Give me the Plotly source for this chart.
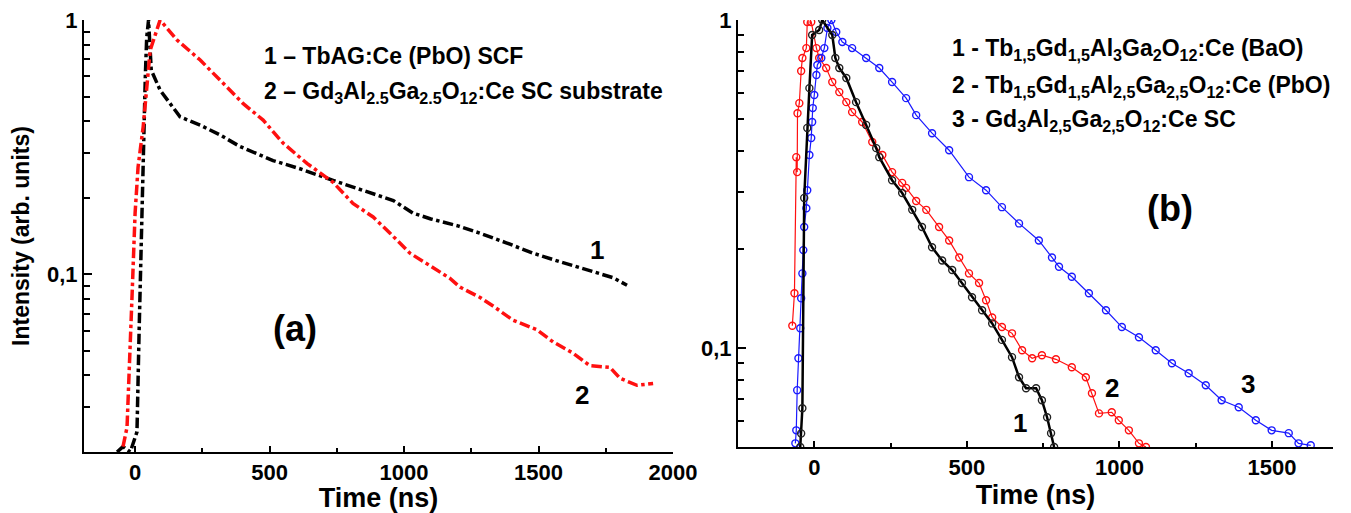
import numpy as np
import plotly.graph_objects as go

# ---- panel (a): TbAG:Ce SCF vs GAGG:Ce substrate ----
a1_t = [-67, -45, -18, 7, 15, 22, 30, 38, 43, 50, 60, 93, 167, 242, 316, 390, 513, 613,
        736, 885, 960, 1033, 1100, 1200, 1283, 1380, 1480, 1580, 1680, 1777, 1829]
a1_i = [0.020, 0.021, 0.020, 0.024, 0.06, 0.13, 0.3, 0.6, 0.85, 1.0, 0.635, 0.53, 0.416,
        0.386, 0.353, 0.318, 0.28, 0.26, 0.234, 0.208, 0.195, 0.174, 0.165, 0.155, 0.145,
        0.133, 0.121, 0.112, 0.104, 0.097, 0.0905]

a2_t = [-45, -30, -11, 0, 11, 30, 45, 56, 93, 156, 242, 316, 401, 476, 550, 639, 736, 810,
        885, 948, 1022, 1097, 1171, 1208, 1283, 1331, 1405, 1494, 1554, 1628, 1691, 1766,
        1803, 1866, 1926]
a2_i = [0.021, 0.025, 0.084, 0.174, 0.264, 0.38, 0.565, 0.76, 1.0, 0.834, 0.696, 0.58,
        0.47, 0.404, 0.328, 0.273, 0.23, 0.19, 0.168, 0.145, 0.121, 0.108, 0.0963, 0.089,
        0.081, 0.075, 0.066, 0.0605, 0.0542, 0.049, 0.0437, 0.043, 0.039, 0.0366, 0.0372]

# ---- panel (b): three garnet samples ----
b1_t = [-46, -43, -39, -33, -23, -16, -7, 16, 26, 59, 69, 82, 105, 137, 170, 203, 213, 255,
        288, 321, 353, 386, 419, 452, 484, 517, 550, 583, 615, 648, 671, 694, 727, 746,
        763, 776, 786]
b1_i = [0.050, 0.055, 0.0656, 0.287, 0.469, 0.620, 0.90, 0.932, 1.0, 0.90, 0.766, 0.714,
        0.666, 0.562, 0.479, 0.407, 0.382, 0.325, 0.297, 0.264, 0.234, 0.203, 0.185,
        0.173, 0.158, 0.143, 0.1305, 0.119, 0.106, 0.0939, 0.0816, 0.0755, 0.0755,
        0.0694, 0.0616, 0.0551, 0.050]

b2_t = [-72, -65, -59, -56, -55, -49, -43, -39, -26, -23, -10, 7, 16, 39, 59, 82, 105, 124,
        157, 190, 223, 255, 288, 301, 334, 367, 409, 442, 475, 507, 540, 563, 583, 615,
        648, 681, 714, 746, 792, 844, 890, 910, 933, 975, 998, 1031, 1064, 1087]
b2_i = [0.117, 0.147, 0.382, 0.344, 0.520, 0.558, 0.699, 0.766, 0.821, 0.986, 0.986,
        0.821, 0.766, 0.714, 0.647, 0.603, 0.562, 0.524, 0.489, 0.425, 0.388, 0.344,
        0.319, 0.308, 0.281, 0.264, 0.234, 0.213, 0.189, 0.169, 0.158, 0.140, 0.124,
        0.116, 0.111, 0.0986, 0.0932, 0.0952, 0.0925, 0.0875, 0.0816, 0.0729, 0.0633,
        0.0638, 0.0603, 0.0562, 0.0513, 0.050]

b3_t = [-62, -59, -56, -52, -46, -43, -39, -36, -33, -26, -23, -16, -10, -7, -5, 0, 7, 10,
        23, 33, 43, 56, 72, 92, 124, 170, 213, 255, 301, 334, 386, 442, 507, 563, 615, 671,
        736, 779, 802, 844, 900, 956, 1008, 1064, 1119, 1172, 1227, 1283, 1335, 1391,
        1447, 1499, 1555, 1587, 1627]
b3_i = [0.0513, 0.0562, 0.0745, 0.0932, 0.115, 0.142, 0.169, 0.199, 0.234, 0.267, 0.303,
        0.388, 0.437, 0.489, 0.539, 0.591, 0.680, 0.729, 0.766, 0.821, 0.945, 1.0, 0.919,
        0.857, 0.821, 0.766, 0.714, 0.647, 0.578, 0.513, 0.452, 0.401, 0.332, 0.303,
        0.269, 0.240, 0.213, 0.189, 0.177, 0.165, 0.147, 0.1305, 0.116, 0.108, 0.0986,
        0.090, 0.0839, 0.0771, 0.0694, 0.0661, 0.0603, 0.0562, 0.0551, 0.0513, 0.0506]

xt_a = [0, 500, 1000, 1500, 2000]
xt_b = [0, 500, 1000, 1500]
y_major = [0.1, 1]
y_major_text = ["0,1", "1"]

FONT = "Arial, Liberation Sans, sans-serif"
RED = "#ff1010"
BLUE = "#1a1aff"

fig = go.Figure()

fig.add_trace(go.Scatter(x=a1_t, y=a1_i, mode="lines", xaxis="x", yaxis="y",
                         line=dict(color="black", width=3.5, dash="dashdot")))
fig.add_trace(go.Scatter(x=a2_t, y=a2_i, mode="lines", xaxis="x", yaxis="y",
                         line=dict(color=RED, width=3.5, dash="dashdot")))

circ = dict(symbol="circle-open", size=7, line=dict(width=1.4))
fig.add_trace(go.Scatter(x=b2_t, y=b2_i, mode="lines+markers", xaxis="x2", yaxis="y2",
                         line=dict(color=RED, width=1.2),
                         marker=dict(color=RED, **circ)))
fig.add_trace(go.Scatter(x=b3_t, y=b3_i, mode="lines+markers", xaxis="x2", yaxis="y2",
                         line=dict(color=BLUE, width=1.2),
                         marker=dict(color=BLUE, **circ)))
fig.add_trace(go.Scatter(x=b1_t, y=b1_i, mode="lines+markers", xaxis="x2", yaxis="y2",
                         line=dict(color="black", width=2.5),
                         marker=dict(color="#222222", **circ)))

tickfont = dict(family=FONT, size=22, color="black", weight="bold")
xtitlefont = dict(family=FONT, size=27, color="black", weight="bold")
ytitlefont = dict(family=FONT, size=23, color="black", weight="bold")

# the page body has an 8px margin: positions below are screen pixels, shifted by OFF
OFF = 8
W, H = 1351 - OFF, 513 - OFF


def xdom(l, r):
    return [(l - OFF) / W, (r - OFF) / W]


def ydom(b, t):
    return [1 - (b - OFF) / H, 1 - (t - OFF) / H]


common_x = dict(showline=True, linecolor="black", linewidth=2, ticks="inside",
                ticklen=6, tickwidth=1.5, tickcolor="black", showgrid=False,
                zeroline=False, tickfont=tickfont, mirror=False, automargin=False,
                ticklabeloverflow="allow")
common_y = dict(type="log", showline=True, linecolor="black", linewidth=2,
                ticks="inside", ticklen=8, tickwidth=1.5, tickcolor="black",
                showgrid=False, zeroline=False, tickfont=tickfont, automargin=False,
                ticklabeloverflow="allow", tickvals=y_major, ticktext=y_major_text)

fig.update_layout(
    width=W, height=H, margin=dict(l=0, r=0, t=0, b=0),
    paper_bgcolor="white", plot_bgcolor="white", showlegend=False,
    xaxis=dict(common_x, domain=xdom(84, 673), range=[-190, 2000], anchor="y",
               tickvals=xt_a,
               minor=dict(tickvals=[250, 750, 1250, 1750], ticks="inside", ticklen=4,
                          tickwidth=1.5, tickcolor="black"),
               title=dict(text="Time (ns)", font=xtitlefont, standoff=2)),
    yaxis=dict(common_y, domain=ydom(452, 20), range=[np.log10(0.02), 0], anchor="x",
               minor=dict(tickvals=[0.02, 0.03, 0.04, 0.05, 0.06, 0.07, 0.08, 0.09,
                                    0.2, 0.3, 0.4, 0.5, 0.6, 0.7, 0.8, 0.9],
                          ticks="inside", ticklen=6, tickwidth=1.5, tickcolor="black"),
               title=dict(text="Intensity (arb. units)", font=ytitlefont, standoff=12)),
    xaxis2=dict(common_x, domain=xdom(738, 1333), range=[-250, 1700], anchor="y2",
                tickvals=xt_b,
                minor=dict(tickvals=[250, 750, 1250], ticks="inside", ticklen=4,
                           tickwidth=1.5, tickcolor="black"),
                title=dict(text="Time (ns)", font=xtitlefont, standoff=2)),
    yaxis2=dict(common_y, domain=ydom(447, 20), range=[np.log10(0.05), 0], anchor="x2",
                minor=dict(tickvals=[0.06, 0.07, 0.08, 0.09, 0.2, 0.3, 0.4, 0.5, 0.6,
                                     0.7, 0.8, 0.9],
                           ticks="inside", ticklen=6, tickwidth=1.5, tickcolor="black")),
)

lab = dict(family=FONT, size=23, color="black", weight="bold")
big = dict(family=FONT, size=26, color="black", weight="bold")
huge = dict(family=FONT, size=36, color="black", weight="bold")


def note(x, y, text, font, xanchor="left"):
    fig.add_annotation(x=(x - OFF) / W, y=1 - (y - OFF) / H, xref="paper", yref="paper",
                       text=text, showarrow=False, font=font, xanchor=xanchor,
                       yanchor="middle")


note(262, 56, "1 – TbAG:Ce (PbO) SCF", lab)
note(262, 92, "2 – Gd<sub>3</sub>Al<sub>2.5</sub>Ga<sub>2.5</sub>O<sub>12</sub>:Ce SC substrate", lab)
note(597, 250, "1", big, "center")
note(582, 395, "2", big, "center")
note(295, 328, "(a)", huge, "center")

note(950, 50, "1 - Tb<sub>1,5</sub>Gd<sub>1,5</sub>Al<sub>3</sub>Ga<sub>2</sub>O<sub>12</sub>:Ce (BaO)", lab)
note(950, 86, "2 - Tb<sub>1,5</sub>Gd<sub>1,5</sub>Al<sub>2,5</sub>Ga<sub>2,5</sub>O<sub>12</sub>:Ce (PbO)", lab)
note(950, 121, "3 - Gd<sub>3</sub>Al<sub>2,5</sub>Ga<sub>2,5</sub>O<sub>12</sub>:Ce SC", lab)
note(1020, 423, "1", big, "center")
note(1112, 388, "2", big, "center")
note(1248, 384, "3", big, "center")
note(1170, 208, "(b)", huge, "center")

fig.write_html("out.html")
